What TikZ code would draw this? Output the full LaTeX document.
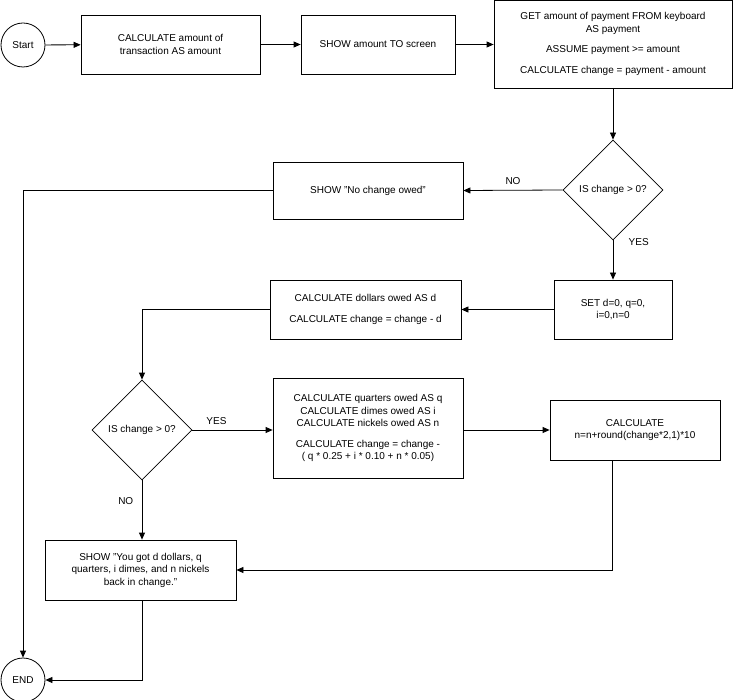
\documentclass[tikz,border=0pt]{standalone}
\usepackage{fontspec}
\setmainfont{Liberation Sans}
\usetikzlibrary{shapes.geometric,arrows.meta}
\begin{document}
\begin{tikzpicture}[x=1pt,y=-1pt,
  every node/.style={font=\fontsize{10}{12.5}\selectfont},
  box/.style={draw,thick,align=center,inner sep=0pt},
  term/.style={draw,thick,circle,minimum size=44pt,inner sep=0pt},
  dec/.style={draw,thick,diamond,minimum width=100pt,minimum height=100pt,inner sep=0pt,aspect=1},
  arr/.style={thick,-{Triangle[length=7pt,width=6pt]}},
  lbl/.style={font=\fontsize{10}{12}\selectfont}]
\useasboundingbox (0,0) rectangle (733,700);
\node[term] (start) at (23,45) {Start};
\node[term] (end) at (23,680) {END};
\node[box,minimum width=179pt,minimum height=59pt] (b1) at (170.5,44.5) {CALCULATE amount of\\transaction AS amount};
\node[box,minimum width=154pt,minimum height=59pt] (b2) at (378,44.5) {SHOW amount TO screen};
\node[box,minimum width=238pt,minimum height=88pt] (b3) at (613,44) {GET amount of payment FROM keyboard\\AS payment\\[8pt]ASSUME payment >= amount\\[8pt]CALCULATE change = payment - amount};
\node[dec] (d1) at (613,190) {IS change > 0?};
\node[box,minimum width=190pt,minimum height=57pt] (nc) at (368,190.5) {SHOW "No change owed"};
\node[box,minimum width=118pt,minimum height=59pt] (set) at (613,309.5) {SET d=0, q=0,\\i=0,n=0};
\node[box,minimum width=191pt,minimum height=59pt] (dol) at (365.5,309.5) {CALCULATE dollars owed AS d\\[8pt]CALCULATE change = change - d};
\node[dec] (d2) at (142,430) {IS change > 0?};
\node[box,minimum width=190pt,minimum height=100pt] (qd) at (368,428) {CALCULATE quarters owed AS q\\CALCULATE dimes owed AS i\\CALCULATE nickels owed AS n\\[8pt]CALCULATE change = change -\\( q * 0.25 + i * 0.10 + n * 0.05)};
\node[box,minimum width=170pt,minimum height=60pt] (nn) at (635,430) {CALCULATE\\n=n+round(change*2,1)*10};
\node[box,minimum width=191pt,minimum height=60pt] (show) at (140.5,570) {SHOW "You got d dollars, q\\quarters, i dimes, and n nickels\\back in change."};
\draw[arr] (start) -- (b1);
\draw[arr] (b1) -- (b2);
\draw[arr] (b2.east) -- (b3.west|-b2.east);
\draw[arr] (613,88) -- (d1.north);
\draw[arr] (d1.west) -- (nc.east) node[lbl,pos=0.5,above=2pt] {NO};
\draw[arr] (nc.west) -| (end.north);
\draw[arr] (d1.south) -- (set.north) node[lbl,pos=0.05,right=12pt,anchor=west] {YES};
\draw[arr] (set.west) -- (dol.east);
\draw[arr] (dol.west) -| (d2.north);
\draw[arr] (d2.east) -- (qd.west|-d2.east) node[lbl,pos=0.3,above=2pt] {YES};
\draw[arr] (qd.east|-nn.west) -- (nn.west);
\draw[arr] (d2.south) -- (show.north-|d2.south) node[lbl,pos=0.35,left=5pt] {NO};
\draw[arr] (612,460) |- (show.east);
\draw[arr] (142,600) |- (end.east);
\end{tikzpicture}
\end{document}
